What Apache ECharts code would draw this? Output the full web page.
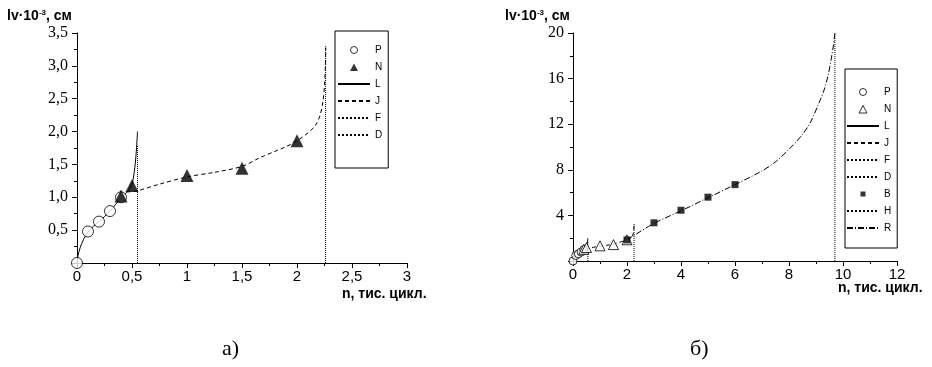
<!DOCTYPE html>
<html>
<head>
<meta charset="utf-8">
<script src="https://cdn.jsdelivr.net/npm/echarts@6/dist/echarts.min.js"></script>
<style>
html,body{margin:0;padding:0;background:#fff;}
#c{width:932px;height:367px;}
</style>
</head>
<body>
<div id="c"></div>
<script>
// ---------- data ----------
// P: open circles
const pX = [0, 0.1, 0.2, 0.3, 0.4];
const pY = [0, 0.48, 0.63, 0.79, 1.0];
// N: triangles
const nX = [0.4, 0.5, 1.0, 1.5, 2.0];
const nY = [1.02, 1.18, 1.33, 1.44, 1.86];
// L: solid curve
const lX = [0, 0.01, 0.03, 0.06, 0.1, 0.15, 0.2, 0.3, 0.4, 0.45, 0.48, 0.5, 0.51, 0.52, 0.53, 0.54, 0.55];
const lY = [0, 0.12, 0.24, 0.36, 0.47, 0.56, 0.63, 0.79, 0.99, 1.07, 1.13, 1.2, 1.27, 1.38, 1.52, 1.72, 2.0];
// J: dashed curve
const jX = [0.45, 0.55, 0.75, 1.0, 1.25, 1.5, 1.66, 1.8, 1.9, 2.0, 2.1, 2.17, 2.21, 2.235, 2.25, 2.258, 2.262];
const jY = [1.08, 1.1, 1.2, 1.31, 1.38, 1.47, 1.6, 1.7, 1.77, 1.86, 1.98, 2.1, 2.25, 2.45, 2.7, 3.0, 3.28];
// F, D: dotted verticals
const fX = [0.55, 0.55];
const fY = [0, 1.8];
const dX = [2.26, 2.26];
const dY = [0, 3.3];
// B: filled squares
const bX = [2, 3, 4, 5, 6];
const bY = [1.85, 3.35, 4.45, 5.6, 6.7];
// H: dotted vertical
const hX = [9.7, 9.7];
const hY = [0, 20];
// R: dash-dot curve
const rX = [2, 3, 4, 5, 6, 7, 7.5, 8, 8.5, 8.8, 9.1, 9.3, 9.45, 9.57, 9.65, 9.7];
const rY = [1.85, 3.3, 4.4, 5.55, 6.7, 7.9, 8.7, 9.8, 11.1, 12.2, 13.8, 15.0, 16.3, 17.8, 19.0, 20];

// tick labels
const leftXLabels = ['0', '0,5', '1', '1,5', '2', '2,5', '3'];
const leftYLabels = ['', '0,5', '1,0', '1,5', '2,0', '2,5', '3,0', '3,5'];
const rightXLabels = ['0', '2', '4', '6', '8', '10', '12'];
const rightYLabels = ['', '4', '8', '12', '16', '20'];

const leftNames = ['P', 'N', 'L', 'J', 'F', 'D'];
const rightNames = ['P ', 'N ', 'L ', 'J ', 'F ', 'D ', 'B ', 'H ', 'R '];

const yTitle = 'lv·10';
const yTitleSup = '-3';
const yTitleTail = ', см';
const xTitle = 'n, тис. цикл.';
const captions = ['а)', 'б)'];

function zip(xs, ys) { return xs.map((x, i) => [x, ys[i]]); }

const sans = "'Liberation Sans', Arial, sans-serif";
const serif = "'Liberation Serif', 'Times New Roman', serif";

// legend icons padded to the full 32x9 item box so they keep their shape
const iconTri = 'path://M0,0M32,9M12,8.5L16,1L20,8.5Z';
const iconRect = 'path://M0,0M32,9M13.5,2L18.5,2L18.5,7L13.5,7Z';
const iconCirc = 'path://M0,0M32,9M19.5,4.5A3.5,3.5,0,1,1,12.5,4.5A3.5,3.5,0,1,1,19.5,4.5Z';
const openStyle = { borderWidth: 1, borderColor: '#000', color: '#fff' };

function xAxis(gi, max, interval, labels) {
  return {
    type: 'value', gridIndex: gi, min: 0, max: max, interval: interval,
    axisLine: { show: true, onZero: false, lineStyle: { color: '#000', width: 1 } },
    axisTick: { show: true, length: 5, lineStyle: { color: '#000' } },
    minorTick: { show: true, splitNumber: 2, length: 3, lineStyle: { color: '#000' } },
    splitLine: { show: false },
    axisLabel: {
      margin: 6, color: '#000', fontFamily: sans, fontSize: 15,
      formatter: v => labels[Math.round(v / interval)]
    }
  };
}
function yAxis(gi, max, interval, labels) {
  return {
    type: 'value', gridIndex: gi, min: 0, max: max, interval: interval,
    axisLine: { show: true, onZero: false, lineStyle: { color: '#000', width: 1 } },
    axisTick: { show: true, length: 5, lineStyle: { color: '#000' } },
    minorTick: { show: true, splitNumber: 2, length: 3, lineStyle: { color: '#000' } },
    splitLine: { show: false },
    axisLabel: {
      margin: 9, color: '#000', fontFamily: serif, fontSize: 16,
      formatter: v => labels[Math.round(v / interval)]
    }
  };
}

function lineS(name, gi, xs, ys, type, smooth) {
  return {
    name: name, type: 'line', xAxisIndex: gi, yAxisIndex: gi,
    data: zip(xs, ys), symbol: 'none', smooth: smooth ? 0.3 : false,
    clip: false, z: 2,
    lineStyle: { color: '#000', width: 1, type: type },
    itemStyle: { color: '#000' }
  };
}
function scat(name, gi, xs, ys, symbol, size, filled, z) {
  return {
    name: name, type: 'scatter', xAxisIndex: gi, yAxisIndex: gi,
    data: zip(xs, ys), symbol: symbol, symbolSize: size,
    clip: false, z: z || 3,
    itemStyle: filled ? { color: '#000' } : { color: '#fff', borderColor: '#000', borderWidth: 1 }
  };
}

const dashJ = [4, 3];
const dashR = [6, 2, 1, 2];

const series = [
  // left chart
  lineS('L', 0, lX, lY, 'solid', true),
  lineS('J', 0, jX, jY, dashJ, true),
  lineS('F', 0, fX, fY, 'dotted', false),
  lineS('D', 0, dX, dY, 'dotted', false),
  scat('P', 0, pX, pY, 'circle', 11, false, 3),
  scat('N', 0, nX, nY, 'triangle', 13, true, 4),
  // right chart
  lineS('L ', 1, lX, lY, 'solid', true),
  lineS('J ', 1, jX, jY, dashJ, true),
  lineS('F ', 1, fX, fY, 'dotted', false),
  lineS('D ', 1, dX, dY, 'dotted', false),
  lineS('H ', 1, hX, hY, 'dotted', false),
  lineS('R ', 1, rX, rY, dashR, true),
  scat('P ', 1, pX, pY, 'circle', 8, false, 3),
  scat('N ', 1, nX, nY, 'triangle', 10, false, 4),
  scat('B ', 1, bX, bY, 'rect', 7, true, 5)
];

function legendData(names) {
  return names.map(n => {
    const key = n.trim();
    if (key === 'P') return { name: n, icon: iconCirc, itemStyle: openStyle };
    if (n === 'N') return { name: n, icon: iconTri };
    if (n === 'N ') return { name: n, icon: iconTri, itemStyle: openStyle };
    if (key === 'B') return { name: n, icon: iconRect };
    return { name: n, itemStyle: { opacity: 0 } };
  });
}

function legend(names, left, top, pad) {
  return {
    data: legendData(names), orient: 'vertical', left: left, top: top,
    padding: pad, itemWidth: 32, itemHeight: 9, itemGap: 7,
    borderColor: '#000', borderWidth: 1, borderRadius: 0,
    selectedMode: false, backgroundColor: '#fff',
    textStyle: { color: '#000', fontFamily: sans, fontSize: 10 },
    formatter: n => n.trim()
  };
}

const richTitle = {
  a: { fontFamily: sans, fontWeight: 'bold', fontSize: 14, fill: '#000' },
  s: { fontFamily: sans, fontWeight: 'bold', fontSize: 8, fill: '#000', verticalAlign: 'top' }
};
const yTitleText = '{a|' + yTitle + '}{s|' + yTitleSup + '}{a|' + yTitleTail + '}';

const chart = echarts.init(document.getElementById('c'), null, { renderer: 'canvas' });
chart.setOption({
  animation: false,
  backgroundColor: '#fff',
  grid: [
    { left: 77, top: 33, width: 330, height: 230 },
    { left: 573, top: 33, width: 324, height: 228 }
  ],
  xAxis: [xAxis(0, 3, 0.5, leftXLabels), xAxis(1, 12, 2, rightXLabels)],
  yAxis: [yAxis(0, 3.5, 0.5, leftYLabels), yAxis(1, 20, 4, rightYLabels)],
  legend: [
    legend(leftNames, 335, 31, [14, 6, 28, 2]),
    legend(rightNames, 845, 69, [18, 6, 15, 1])
  ],
  graphic: [
    { type: 'text', left: 7, top: 9, style: { text: yTitleText, rich: richTitle } },
    { type: 'text', left: 505, top: 9, style: { text: yTitleText, rich: richTitle } },
    { type: 'text', left: 342, top: 287, style: { text: xTitle, fontFamily: sans, fontWeight: 'bold', fontSize: 14, fill: '#000' } },
    { type: 'text', left: 838, top: 281, style: { text: xTitle, fontFamily: sans, fontWeight: 'bold', fontSize: 14, fill: '#000' } },
    { type: 'text', left: 222, top: 338, style: { text: captions[0], fontFamily: serif, fontSize: 22, fill: '#000' } },
    { type: 'text', left: 690, top: 338, style: { text: captions[1], fontFamily: serif, fontSize: 22, fill: '#000' } }
  ],
  series: series
});
</script>
</body>
</html>
